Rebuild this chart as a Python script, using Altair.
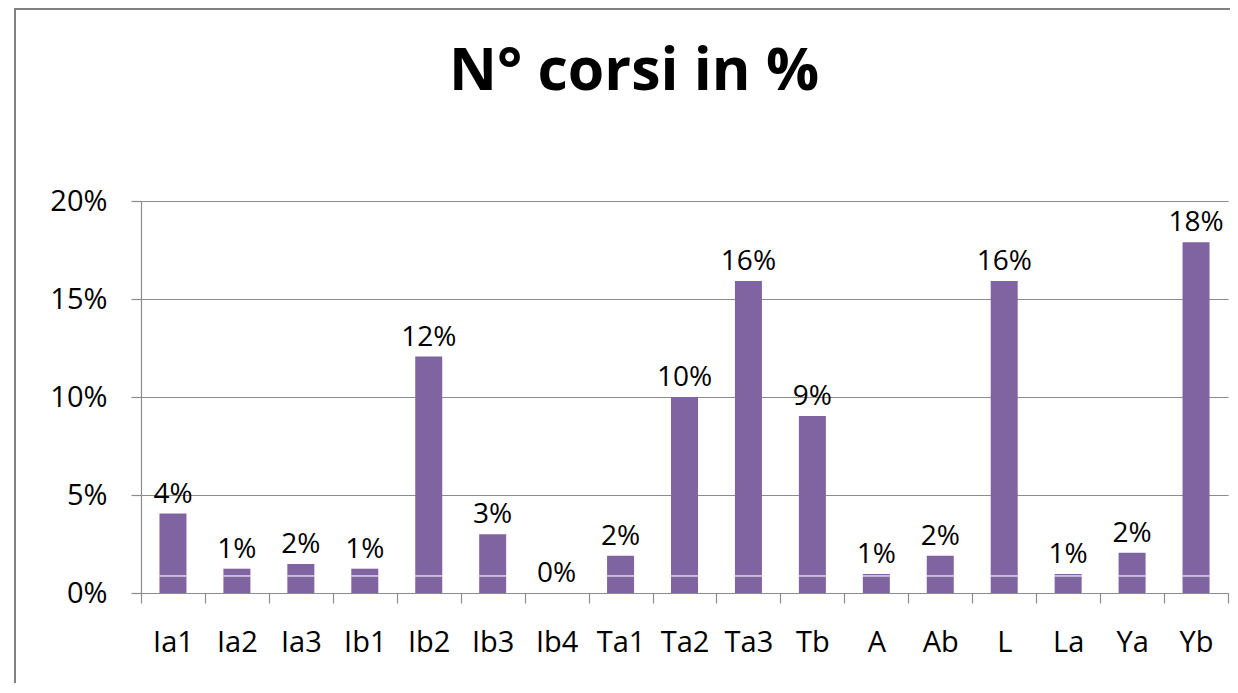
import altair as alt
import pandas as pd

categories = ["Ia1", "Ia2", "Ia3", "Ib1", "Ib2", "Ib3", "Ib4", "Ta1", "Ta2", "Ta3",
              "Tb", "A", "Ab", "L", "La", "Ya", "Yb"]
values = [4.05, 1.24, 1.48, 1.24, 12.06, 3.0, 0.0, 1.9, 10.0, 15.92,
          9.03, 0.97, 1.9, 15.92, 0.97, 2.05, 17.9]
base_segment = [0.87, 0.87, 0.87, 0.87, 0.87, 0.87, None, 0.87, 0.87, 0.87,
                0.87, 0.87, 0.87, 0.87, 0.87, 0.87, 0.87]
labels = ["4%", "1%", "2%", "1%", "12%", "3%", "0%", "2%", "10%", "16%",
          "9%", "1%", "2%", "16%", "1%", "2%", "18%"]
y_ticks = [0, 5, 10, 15, 20]
title_text = ["N° corsi in %"]

df = pd.DataFrame({
    "cat": categories,
    "value": values,
    "base": base_segment,
    "label": labels,
})
title_df = pd.DataFrame({"t": title_text})

FONT = "Open Sans"
PURPLE = "#8064A2"
GRID = "#8C8C8C"

x_enc = alt.X("cat:N", sort=categories, title=None,
              scale=alt.Scale(paddingInner=0, paddingOuter=0),
              axis=alt.Axis(labelAngle=0, labelFontSize=29, labelFont=FONT,
                            labelColor="#000000", labelPadding=25,
                            tickBand="extent", tickSize=10, tickColor=GRID,
                            domainColor=GRID, ticks=True, grid=False))

y_scale = alt.Scale(domain=[0, 20], nice=False)

bars = alt.Chart(df).mark_bar(color=PURPLE, width=27).encode(
    x=x_enc,
    y=alt.Y("value:Q", scale=y_scale, title=None,
            axis=alt.Axis(values=y_ticks, labelExpr="datum.value + '%'",
                          labelFontSize=29, labelFont=FONT, labelColor="#000000",
                          labelPadding=24, tickSize=10, tickColor=GRID,
                          domainColor=GRID, gridColor=GRID, grid=True)),
)

sep = alt.Chart(df).transform_filter("datum.base != null").mark_tick(
    color="white", thickness=1.6, size=27
).encode(
    x=alt.X("cat:N", sort=categories),
    y=alt.Y("base:Q", scale=y_scale),
)

text = alt.Chart(df).mark_text(
    font=FONT, fontSize=28, color="#000000", baseline="bottom", dy=-5
).encode(
    x=alt.X("cat:N", sort=categories),
    y=alt.Y("value:Q", scale=y_scale),
    text="label:N",
)

title = alt.Chart(title_df).mark_text(
    font=FONT, fontSize=59, fontWeight="bold", color="#000000",
    baseline="alphabetic", align="center"
).encode(
    x=alt.value(493), y=alt.value(-111), text="t:N"
)

frame_left = alt.Chart(df).mark_rule(color="#808080", strokeWidth=1.5).encode(
    x=alt.value(-126), y=alt.value(-192.5), y2=alt.value(490)
)
frame_top = alt.Chart(df).mark_rule(color="#808080", strokeWidth=1.5).encode(
    x=alt.value(-126), x2=alt.value(1090), y=alt.value(-192.3)
)

chart = alt.layer(frame_left, frame_top, title, bars, sep, text).properties(
    width=1087,
    height=392,
    autosize=alt.AutoSizeParams(type="none"),
    padding={"left": 133, "top": 193, "right": 2, "bottom": 90},
).configure_view(stroke=None).configure_axis(
    domainWidth=1.2, tickWidth=1.2, gridWidth=1.2
)

chart.save("out.html", embed_options={"renderer": "svg", "actions": False})
